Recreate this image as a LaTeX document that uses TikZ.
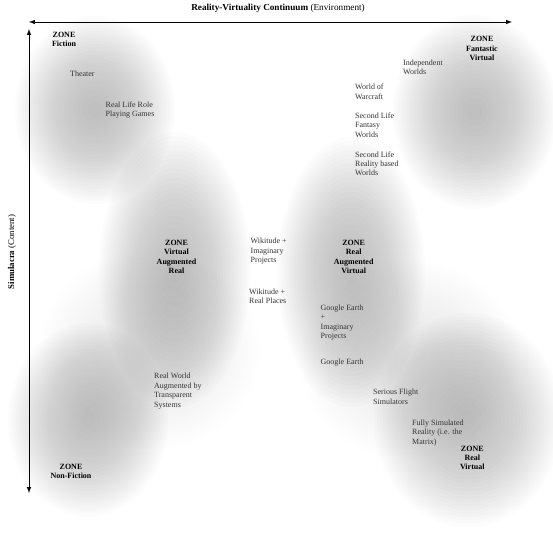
\documentclass[tikz,border=0pt]{standalone}
\usepackage{fontspec}
\setmainfont{Liberation Serif}
\usetikzlibrary{arrows}
\tikzset{>=latex}
\tikzstyle{zone}=[font=\fontsize{8}{9.4}\selectfont\bfseries, align=center, inner sep=0pt]
\tikzstyle{item}=[text=black!80, align=left, anchor=west, inner sep=0pt]
% soft gray spot: centre x, centre y, radius x, radius y, opacity of one layer
\newcommand{\grayblob}[5]{%
  \foreach \s in {1,...,24}
    \fill[black, fill opacity=#5] (#1,#2) ellipse ({#3*(\s/24)^0.75} and {#4*(\s/24)^0.75});}

\begin{document}
\begin{tikzpicture}[x=1pt, y=-1pt, every node/.style={font=\fontsize{8}{9.4}\selectfont}]
    \useasboundingbox (0,0) rectangle (553,536);
    % Gray zones in the background
    \grayblob{150}{350}{110}{100}{.004}
    \grayblob{410}{360}{110}{100}{.005}
    \grayblob{95}{110}{80}{94}{.013}
    \grayblob{475}{112}{82}{97}{.013}
    \grayblob{175}{270}{76}{138}{.013}
    \grayblob{351}{272}{74}{135}{.013}
    \grayblob{88}{420}{80}{97}{.013}
    \grayblob{468}{420}{94}{107}{.013}

    % Axes
    \coordinate (xleft) at (29,22);
    \coordinate (xright) at (512,22);
    \coordinate (ytop) at (29,29);
    \coordinate (ybottom) at (29,493);
    \draw[<->, line width=1pt] (xleft) -- (xright);
    \draw[<->, line width=1pt] (ytop) -- (ybottom);
    \node[font=\fontsize{9.2}{11}\selectfont] (envtitle) at (278,8.5) {\textbf{Reality-Virtuality Continuum} (Environment)};
    \node[rotate=90, font=\fontsize{8.8}{10.5}\selectfont] (simtitle) at (12,252) {\textbf{Simulacra} (Content)};

    % Zones
    \node[zone] (zfiction) at (64,39.5) {ZONE\\Fiction};
    \node[zone] (zfantastic) at (482,48.5) {ZONE\\Fantastic\\Virtual};
    \node[zone] (zvirtaug) at (176.5,256.8) {ZONE\\Virtual\\Augmented\\Real};
    \node[zone] (zrealaug) at (353.7,256.8) {ZONE\\Real\\Augmented\\Virtual};
    \node[zone] (znonfiction) at (71,471.5) {ZONE\\Non-Fiction};
    \node[zone] (zrealvirt) at (472.3,458) {ZONE\\Real\\Virtual};

    % Examples
    \node[item] (theater) at (70,73.3) {Theater};
    \node[item] (roleplay) at (105.5,110.3) {Real Life Role\\Playing Games};
    \node[item] (independent) at (403,67.3) {Independent\\Worlds};
    \node[item] (warcraft) at (355,91.7) {World of\\Warcraft};
    \node[item] (slfantasy) at (355,125) {Second Life\\Fantasy\\Worlds};
    \node[item] (slreality) at (355,163.8) {Second Life\\Reality based\\Worlds};
    \node[item] (wikiimag) at (250.5,251.2) {Wikitude +\\Imaginary\\Projects};
    \node[item] (wikireal) at (249,296.2) {Wikitude +\\Real Places};
    \node[item] (geimag) at (320.5,322.5) {Google Earth\\+\\Imaginary\\Projects};
    \node[item] (gearth) at (320.5,363) {Google Earth};
    \node[item] (transparent) at (154,391) {Real World\\Augmented by\\Transparent\\Systems};
    \node[item] (flightsim) at (373,396.7) {Serious Flight\\Simulators};
    \node[item] (matrix) at (412,432.7) {Fully Simulated\\Reality (i.e. the\\Matrix)};
\end{tikzpicture}
\end{document}
